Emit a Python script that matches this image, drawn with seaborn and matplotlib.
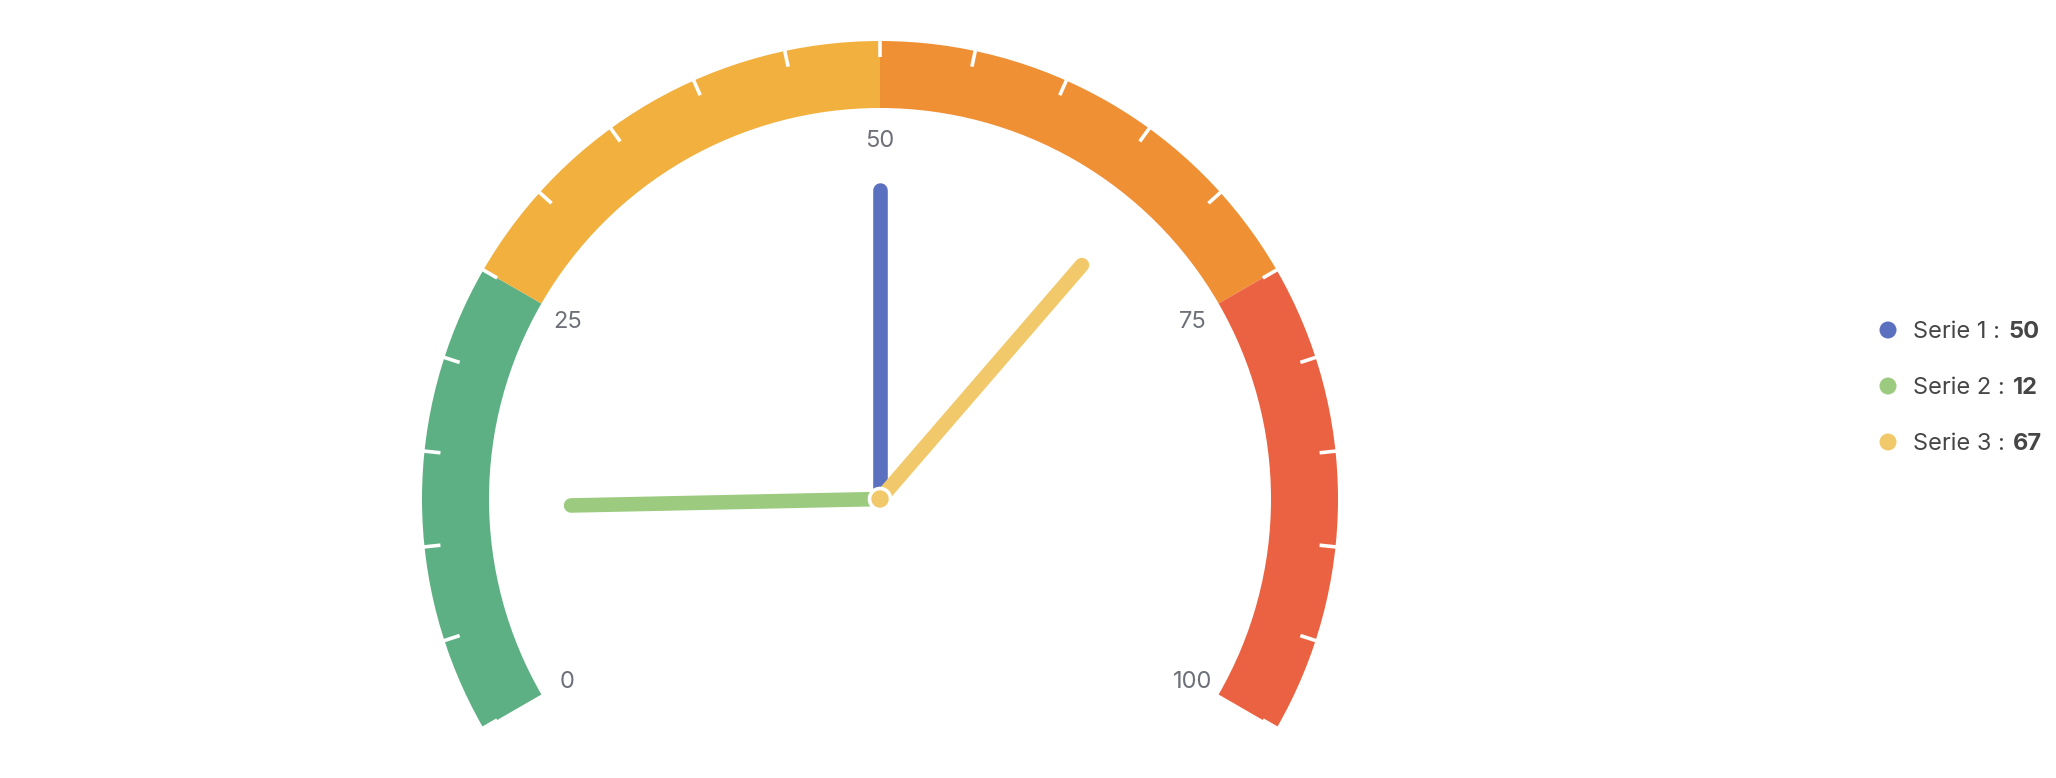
import numpy as np
import pandas as pd
import matplotlib.pyplot as plt
from matplotlib.patches import Wedge, Circle
import seaborn as sns

sns.set_theme(style="white")
plt.rcParams['font.family'] = ['Inter', 'DejaVu Sans']

# gauge data
series = ["Serie 1", "Serie 2", "Serie 3"]
values = [50, 12, 67]
needle_colors = ["#5b70bf", "#9ccb80", "#f2c96a"]

band_edges = [0, 25, 50, 75, 100]
band_colors = ["#5db083", "#f2b03f", "#ef9035", "#ea6241"]
label_values = [0, 25, 50, 75, 100]
tick_values = list(range(0, 101, 5))

# layout (pixels, y up)
W, H = 2056, 778
cx, cy = 880, 279
r_out, r_in = 458, 391
r_label = 361
r_needle = 309
start_ang, end_ang = 210, -30


def angle(v):
    return start_ang + (end_ang - start_ang) * v / 100.0


def polar(r, v):
    a = np.deg2rad(angle(v))
    return cx + r * np.cos(a), cy + r * np.sin(a)


fig = plt.figure(figsize=(W / 100, H / 100), dpi=100)
ax = fig.add_axes([0, 0, 1, 1])
ax.set_xlim(0, W)
ax.set_ylim(0, H)
ax.set_aspect("equal")
ax.axis("off")

# colored bands
for lo, hi, c in zip(band_edges[:-1], band_edges[1:], band_colors):
    ax.add_patch(Wedge((cx, cy), r_out, angle(hi), angle(lo),
                       width=r_out - r_in, facecolor=c, edgecolor="none", zorder=1))

# white split ticks
for v in tick_values:
    x0, y0 = polar(r_out + 1, v)
    x1, y1 = polar(r_out - 16, v)
    ax.plot([x0, x1], [y0, y1], color="white", lw=2.6, zorder=2,
            solid_capstyle="butt")

# axis labels
for v in label_values:
    x, y = polar(r_label, v)
    ax.text(x, y - 3, str(v), ha="center", va="center", fontsize=17,
            color="#6e7079", zorder=3)

# needles
rows = []
for s, v in zip(series, values):
    ex, ey = polar(r_needle, v)
    rows.append({"serie": s, "x": cx, "y": cy, "step": 0})
    rows.append({"serie": s, "x": ex, "y": ey, "step": 1})
df = pd.DataFrame(rows)
sns.lineplot(data=df, x="x", y="y", hue="serie", units="serie",
             estimator=None, sort=False, palette=needle_colors, lw=10.5,
             solid_capstyle="round", legend=False, ax=ax, zorder=4)
ax.set_xlim(0, W)
ax.set_ylim(0, H)
ax.axis("off")

# pivot
ax.add_patch(Circle((cx, cy), 10.5, facecolor=needle_colors[-1],
                    edgecolor="white", lw=2.6, zorder=5))

# legend
leg_x, leg_y0, leg_dy = 1888, 448, 56
renderer = fig.canvas.get_renderer()
for i, (s, v, c) in enumerate(zip(series, values, needle_colors)):
    y = leg_y0 - i * leg_dy
    ax.scatter([leg_x], [y], s=150, color=c, edgecolor="none", zorder=5)
    t = ax.text(leg_x + 25, y - 2, f"{s} :", ha="left", va="center",
                fontsize=17, color="#464646")
    bb = t.get_window_extent(renderer=renderer)
    x_end = ax.transData.inverted().transform((bb.x1, bb.y0))[0]
    ax.text(x_end + 8, y - 2, str(v), ha="left", va="center", fontsize=17,
            color="#464646", fontweight="bold")

fig.savefig("out.png", dpi=100, facecolor="white")
